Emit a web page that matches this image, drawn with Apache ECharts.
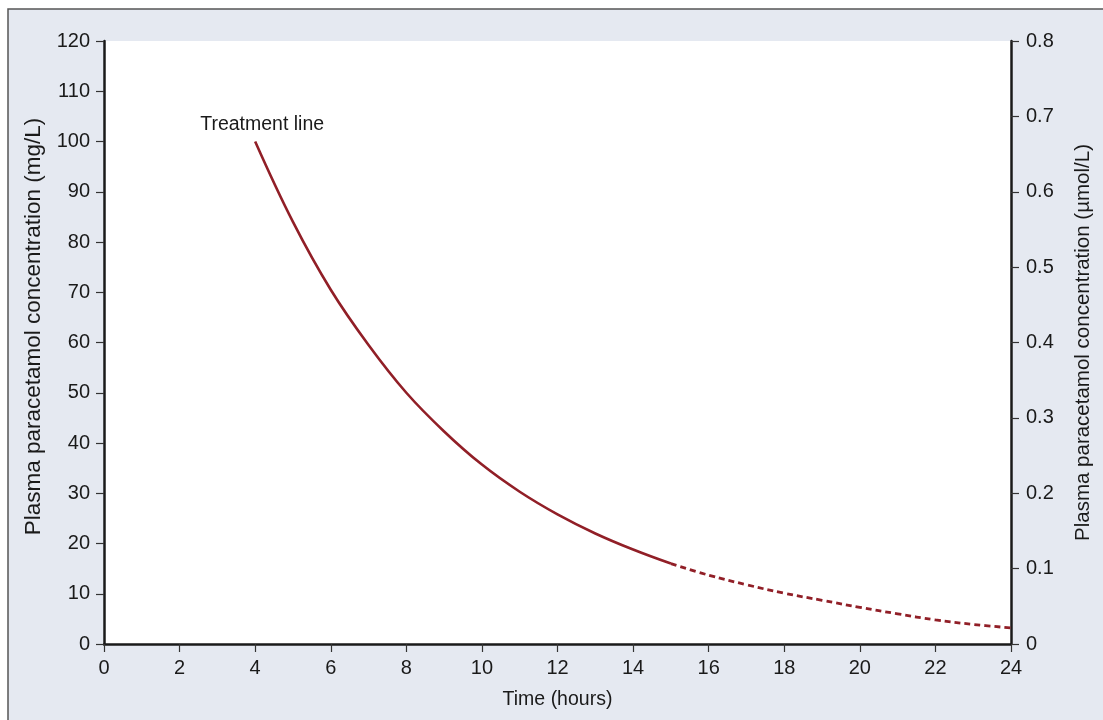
<!DOCTYPE html>
<html>
<head>
<meta charset="utf-8">
<title>Paracetamol treatment line</title>
<script src="https://cdn.jsdelivr.net/npm/echarts@6/dist/echarts.min.js"></script>
<style>
  html, body { margin: 0; padding: 0; background: #ffffff; }
  #chart { width: 1103px; height: 720px; }
</style>
</head>
<body>
<div id="chart"></div>
<script>
// Treatment line: plasma paracetamol (mg/L) against hours after ingestion
const hoursSolid = [4, 5, 6, 7, 8, 9, 10, 11, 12, 13, 14, 15];
const concSolid = [100, 84, 70.5, 59.5, 50, 42.3, 35.7, 30.3, 25.8, 22, 18.8, 16];
// Extension of the line beyond 15 hours (drawn dashed)
const hoursDashed = [15, 16, 17, 18, 19, 20, 21, 22, 23, 24];
const concDashed = [16, 13.7, 11.8, 10.1, 8.7, 7.3, 6.0, 4.8, 3.9, 3.2];

const lineLabel = 'Treatment line';
const xTitle = 'Time (hours)';
const yLeftTitle = 'Plasma paracetamol concentration (mg/L)';
const yRightTitle = 'Plasma paracetamol concentration (\u00B5mol/L)';

const FONT = "'Liberation Sans Narrow', 'Liberation Sans', Arial, sans-serif";
const INK = '#1a1a1a';
const RED = '#911f27';

const solidData = hoursSolid.map((h, i) => {
  const item = { value: [h, concSolid[i]] };
  if (i === 0) {
    item.label = {
      show: true,
      formatter: lineLabel,
      position: 'top',
      distance: 7,
      offset: [7, 0],
      color: INK,
      fontFamily: FONT,
      fontSize: 19.5
    };
  }
  return item;
});
const dashedData = hoursDashed.map((h, i) => [h, concDashed[i]]);

const axisLine = { show: true, onZero: false, lineStyle: { color: INK, width: 2.5 } };
const axisTick = { show: true, inside: false, length: 8, lineStyle: { color: '#333', width: 1.2 } };
const axisLabel = { color: INK, fontFamily: FONT, fontSize: 20 };
const xNameStyle = { color: INK, fontFamily: FONT, fontSize: 19.5 };
const yNameStyle = { color: INK, fontFamily: FONT, fontSize: 22.5 };

const chart = echarts.init(document.getElementById('chart'), null, { renderer: 'canvas' });
chart.setOption({
  animation: false,
  backgroundColor: '#ffffff',
  graphic: {
    elements: [{
      type: 'rect',
      z: -10,
      silent: true,
      shape: { x: 8, y: 9, width: 1200, height: 800 },
      style: { fill: '#e5e9f1', stroke: '#555555', lineWidth: 1.5 }
    }]
  },
  grid: {
    left: 104, right: 92, top: 41, bottom: 76,
    show: true, backgroundColor: '#ffffff', borderWidth: 0
  },
  xAxis: {
    type: 'value', min: 0, max: 24, interval: 2,
    name: xTitle, nameLocation: 'middle', nameGap: 46, nameTextStyle: xNameStyle,
    axisLine: axisLine, axisTick: axisTick,
    axisLabel: Object.assign({ margin: 14 }, axisLabel),
    splitLine: { show: false }
  },
  yAxis: [{
    type: 'value', position: 'left', min: 0, max: 120, interval: 10,
    name: yLeftTitle, nameLocation: 'middle', nameRotate: 90, nameGap: 53,
    nameTextStyle: Object.assign({ padding: [0, 0, 0, 32] }, yNameStyle),
    axisLine: axisLine, axisTick: axisTick,
    axisLabel: Object.assign({ margin: 14 }, axisLabel),
    splitLine: { show: false }
  }, {
    type: 'value', position: 'right', min: 0, max: 0.8, interval: 0.1,
    name: yRightTitle, nameLocation: 'middle', nameRotate: 90, nameGap: 62,
    nameTextStyle: Object.assign({}, yNameStyle, { fontSize: 20.5 }),
    axisLine: axisLine, axisTick: axisTick,
    axisLabel: Object.assign({ margin: 15 }, axisLabel),
    splitLine: { show: false }
  }],
  series: [{
    name: lineLabel,
    type: 'line',
    yAxisIndex: 0,
    data: solidData,
    smooth: 0.4,
    showSymbol: true,
    symbol: 'circle',
    symbolSize: 0,
    lineStyle: { color: RED, width: 2.6 },
    itemStyle: { color: RED },
    z: 3
  }, {
    name: lineLabel + ' (extended)',
    type: 'line',
    yAxisIndex: 0,
    data: dashedData,
    smooth: 0.4,
    showSymbol: false,
    lineStyle: { color: RED, width: 2.8, type: [6, 4] },
    z: 3
  }]
});
</script>
</body>
</html>
